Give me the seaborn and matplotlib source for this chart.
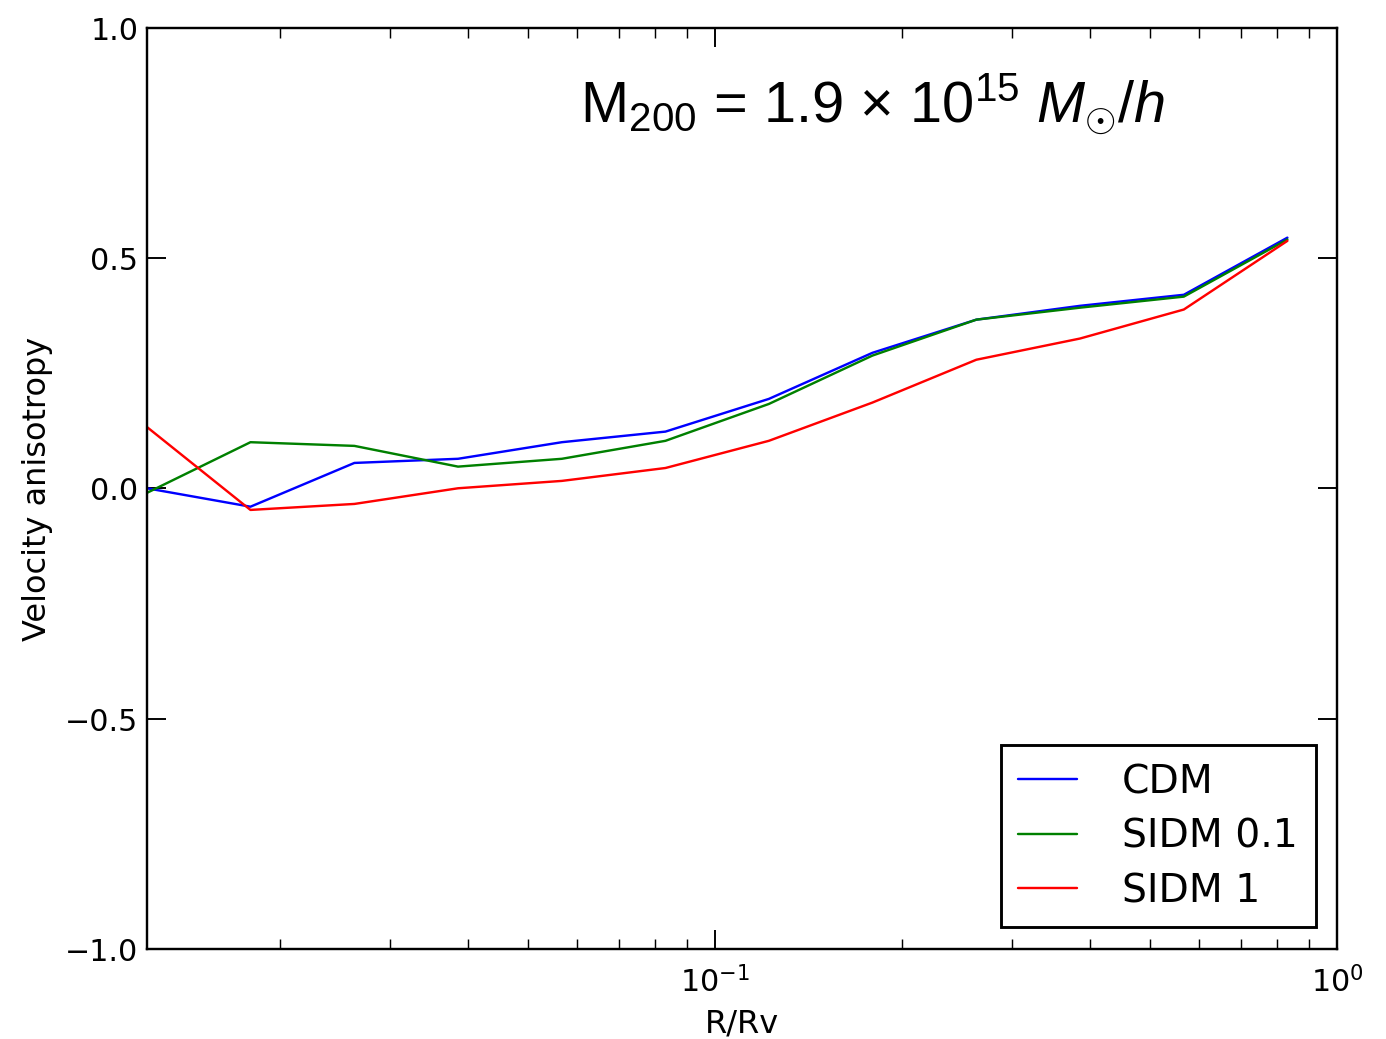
import numpy as np
import pandas as pd
import matplotlib
matplotlib.use("Agg")
import matplotlib.pyplot as plt
import seaborn as sns

# Data
r_over_rv = [0.0122, 0.0179, 0.0263, 0.0386, 0.0567, 0.0832, 0.122, 0.179, 0.263, 0.386, 0.567, 0.832]
cdm = [0.0, -0.04, 0.055, 0.064, 0.10, 0.123, 0.194, 0.294, 0.366, 0.396, 0.42, 0.544]
sidm01 = [-0.01, 0.10, 0.092, 0.047, 0.064, 0.103, 0.183, 0.288, 0.366, 0.392, 0.416, 0.54]
sidm1 = [0.133, -0.047, -0.034, 0.0, 0.016, 0.044, 0.103, 0.186, 0.279, 0.325, 0.388, 0.537]
labels = ["CDM", "SIDM 0.1", "SIDM 1"]
colors = ["blue", "green", "red"]

df = pd.concat([
    pd.DataFrame({"R/Rv": r_over_rv, "beta": vals, "model": lab})
    for vals, lab in zip([cdm, sidm01, sidm1], labels)
], ignore_index=True)

sns.set_style("ticks")
plt.rcParams.update({
    "font.family": ["DejaVu Sans"],
    "text.color": "black", "axes.labelcolor": "black",
    "xtick.color": "black", "ytick.color": "black",
    "xtick.direction": "in", "ytick.direction": "in",
    "xtick.top": True, "ytick.right": True,
    "xtick.major.size": 8, "ytick.major.size": 8,
    "xtick.minor.size": 4, "ytick.minor.size": 4,
    "axes.linewidth": 1.0,
    "mathtext.fontset": "custom",
    "mathtext.rm": "Liberation Sans",
    "mathtext.it": "Liberation Sans:italic",
})

fig = plt.figure(figsize=(8, 6), dpi=173.25)
ax = fig.add_axes([0.106, 0.0866, 0.8587, 0.8864])

sns.lineplot(data=df, x="R/Rv", y="beta", hue="model", palette=dict(zip(labels, colors)),
             linewidth=1.0, ax=ax, legend=False)
for lab, c in zip(labels, colors):
    ax.plot([], [], color=c, lw=1.0, label=lab)

ax.set_xscale("log")
ax.set_xlim(0.0122, 1.0)
ax.set_ylim(-1.0, 1.0)
ax.set_yticks([-1.0, -0.5, 0.0, 0.5, 1.0])
ax.set_yticklabels(["\u22121.0", "\u22120.5", "0.0", "0.5", "1.0"])
ax.tick_params(labelsize=12.5)
ax.tick_params(which="both", direction="in", top=True, right=True)
ax.tick_params(axis="x", which="major", pad=7)
ax.set_xlabel("R/Rv", fontsize=13.3, labelpad=4)
ax.set_ylabel("Velocity anisotropy", fontsize=13.3, labelpad=5)
for s in ax.spines.values():
    s.set_color("black")
    s.set_linewidth(1.0)

ax.text(0.61, 0.918, r"M$_{200}$ = 1.9 $\times$ 10$^{15}$ $M_{\odot}/h$",
        transform=ax.transAxes, ha="center", va="center", fontsize=24,
        family="Liberation Sans")

leg = ax.legend(loc="lower right", fontsize=16.3, frameon=True, fancybox=False,
                edgecolor="black", framealpha=1.0, handlelength=1.5, handletextpad=1.15,
                borderpad=0.45, labelspacing=0.42, borderaxespad=0.55)
leg.get_frame().set_linewidth(1.2)

fig.savefig("out.png", dpi=173.25)
